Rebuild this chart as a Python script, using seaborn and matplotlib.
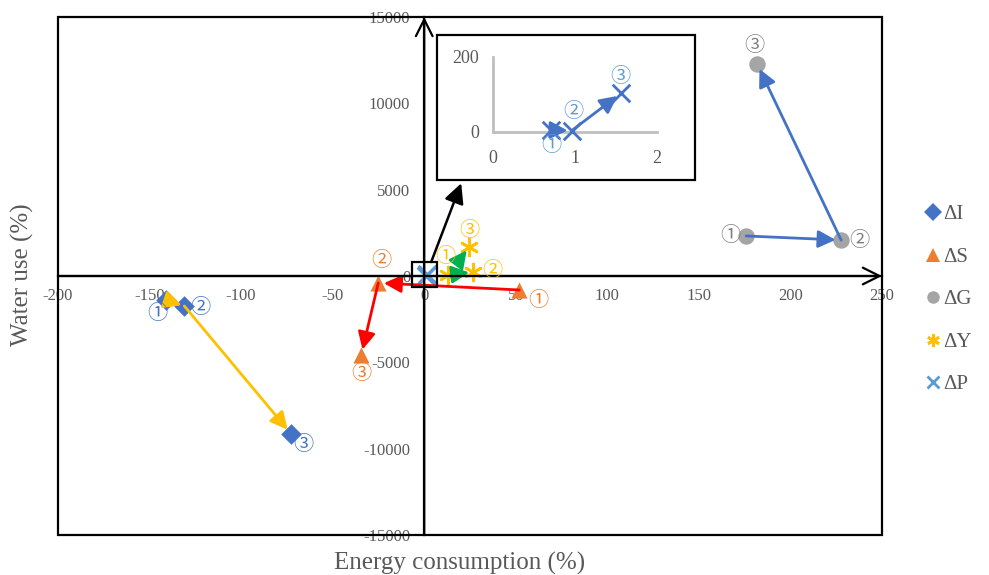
import matplotlib
matplotlib.use("Agg")
import matplotlib.pyplot as plt
import seaborn as sns
from matplotlib.patches import Rectangle
from matplotlib.lines import Line2D

# ---------------- data ----------------
series = ["ΔI", "ΔS", "ΔG", "ΔY", "ΔP"]
stages = ["①", "②", "③"]

I_x = [-141.0, -131.0, -72.6]
I_y = [-1390, -1740, -9150]
S_x = [51.9, -25.1, -34.4]
S_y = [-810, -400, -4580]
G_x = [175.8, 227.7, 181.8]
G_y = [2320, 2080, 12280]
Y_x = [13.1, 26.8, 24.6]
Y_y = [60, 230, 1680]
P_x = [0.71, 0.96, 1.56]
P_y = [4.5, 3.0, 102.0]

x_ticks = [-200, -150, -100, -50, 0, 50, 100, 150, 200, 250]
y_ticks = [-15000, -10000, -5000, 0, 5000, 10000, 15000]
inset_x_ticks = [0, 1, 2]
inset_y_ticks = [0, 200]

x_label = "Energy consumption (%)"
y_label = "Water use (%)"

# ---------------- style ----------------
sns.set_style("white")
plt.rcParams["font.family"] = ["Liberation Serif", "DejaVu Sans"]
TXT = "#595959"
CIRC_FONT = ["Noto Sans CJK JP", "DejaVu Sans"]

marker_col = {"ΔI": "#4472C4", "ΔS": "#ED7D31", "ΔG": "#A5A5A5",
              "ΔY": "#FFC000", "ΔP": "#5B9BD5"}
arrow_col = {"ΔI": "#FFC000", "ΔS": "#FF0000", "ΔG": "#4472C4",
             "ΔY": "#00B050", "ΔP": "#4472C4"}
label_col = {"ΔI": "#4472C4", "ΔS": "#ED7D31", "ΔG": "#7F7F7F",
             "ΔY": "#FFC000", "ΔP": "#5B9BD5"}
markers = {"ΔI": "D", "ΔS": "^", "ΔG": "o", "ΔY": (6, 2, 0), "ΔP": "x"}
msize = {"ΔI": 110, "ΔS": 135, "ΔG": 140, "ΔY": 150, "ΔP": 160}

fig = plt.figure(figsize=(9.89, 5.75), dpi=100)
W, H = 989, 575
ax = fig.add_axes([58 / W, (H - 535) / H, 824 / W, 518 / H])
ax.set_xlim(-200, 250)
ax.set_ylim(-15000, 15000)

# axes through origin
for side in ["top", "right"]:
    ax.spines[side].set_visible(False)
for side in ["left", "bottom"]:
    ax.spines[side].set_position(("data", 0))
    ax.spines[side].set_color("black")
    ax.spines[side].set_linewidth(1.6)
ax.set_xticks(x_ticks)
ax.set_yticks(y_ticks)
ax.set_xticklabels([str(t) for t in x_ticks])
ax.set_yticklabels([str(t) for t in y_ticks])
ax.tick_params(axis="x", length=0, pad=9, labelsize=12, labelcolor=TXT)
ax.tick_params(axis="y", length=0, pad=10, labelsize=12, labelcolor=TXT)
ax.set_xlabel("")
ax.set_ylabel("")
ax.grid(False)

# outer frame
ax.add_patch(Rectangle((0, 0), 1, 1, transform=ax.transAxes, fill=False,
                       ec="black", lw=1.6, clip_on=False, zorder=5))
# arrow heads on the axes
head = "->,head_length=0.8,head_width=0.4"
ax.annotate("", xy=(250, 0), xytext=(-200, 0), annotation_clip=False,
            arrowprops=dict(arrowstyle=head, color="black", lw=1.6,
                            shrinkA=0, shrinkB=0, mutation_scale=15), zorder=5)
ax.annotate("", xy=(0, 15000), xytext=(0, -15000), annotation_clip=False,
            arrowprops=dict(arrowstyle=head, color="black", lw=1.6,
                            shrinkA=0, shrinkB=0, mutation_scale=15), zorder=5)

data = {"ΔI": (I_x, I_y), "ΔS": (S_x, S_y), "ΔG": (G_x, G_y),
        "ΔY": (Y_x, Y_y), "ΔP": (P_x, P_y)}

for name in series:
    xs, ys = data[name]
    m = markers[name]
    kw = dict(x=xs, y=ys, ax=ax, marker=m, color=marker_col[name],
              s=msize[name], legend=False, zorder=3, clip_on=False)
    if name in ("ΔY", "ΔP"):
        kw["linewidth"] = 1.9
    else:
        kw["linewidth"] = 0
    sns.scatterplot(**kw)


def arrow(a, xy_from, xy_to, color, shrinkA=0, shrinkB=3, z=4):
    a.annotate("", xy=xy_to, xytext=xy_from, annotation_clip=False,
               arrowprops=dict(arrowstyle="-|>,head_length=0.7,head_width=0.35",
                               color=color, lw=2, shrinkA=shrinkA,
                               shrinkB=shrinkB, mutation_scale=15), zorder=z)


for name in ["ΔI", "ΔS", "ΔG"]:
    xs, ys = data[name]
    for k in range(2):
        arrow(ax, (xs[k], ys[k]), (xs[k + 1], ys[k + 1]), arrow_col[name],
              shrinkA=0, shrinkB=(2 if k == 0 and name == "ΔI" else 4))
# ΔY: arrows
arrow(ax, (Y_x[0], Y_y[0]), (Y_x[1], Y_y[1]), arrow_col["ΔY"], shrinkA=2, shrinkB=3)
arrow(ax, (Y_x[0], Y_y[0]), (Y_x[2], Y_y[2]), arrow_col["ΔY"], shrinkA=12, shrinkB=3)

# circled stage labels (offsets in points)
offsets = {
    "ΔI": [(-6.5, -10), (11.5, -0.7), (8.5, -7.9)],
    "ΔS": [(13.7, -7.9), (2.2, 15.8), (0, -13)],
    "ΔG": [(-11.5, 0), (13, 0), (-2.2, 13)],
    "ΔY": [(-2.2, 13), (13.7, 1.4), (0, 12.2)],
}
for name, offs in offsets.items():
    xs, ys = data[name]
    for k in range(3):
        ax.annotate(stages[k], (xs[k], ys[k]), xytext=offs[k],
                    textcoords="offset points", ha="center", va="center",
                    fontsize=14.5, color=label_col[name], family=CIRC_FONT,
                    zorder=6, annotation_clip=False)

# small box around origin and pointer to inset
ax.add_patch(Rectangle((-6.6, -640), 13.7, 1450, fill=False, ec="black",
                       lw=1.6, zorder=6))
ax.annotate("", xy=(20.2, 5370), xytext=(3.8, 810),
            arrowprops=dict(arrowstyle="-|>,head_length=0.8,head_width=0.4",
                            color="black", lw=1.8, shrinkA=0, shrinkB=0,
                            mutation_scale=15), zorder=7)

# inset border
ax.add_patch(Rectangle((437 / W, (H - 180) / H), 258 / W, 145 / H,
                       transform=fig.transFigure, fc="white", ec="black",
                       lw=1.6, clip_on=False, zorder=8))

# axis titles
fig.text(460 / W, 1 - 563 / H, x_label, ha="center", va="center",
         fontsize=18, color=TXT)
fig.text(22 / W, 1 - 275 / H, y_label, ha="center", va="center",
         rotation=90, fontsize=18, color=TXT)

# inset axes
ins = fig.add_axes([493.3 / W, (H - 131.7) / H, 163.4 / W, 75 / H])
ins.set_facecolor("none")
ins.set_xlim(0, 2)
ins.set_ylim(0, 200)
for side in ["top", "right"]:
    ins.spines[side].set_visible(False)
for side in ["left", "bottom"]:
    ins.spines[side].set_color("#BFBFBF")
    ins.spines[side].set_linewidth(2)
ins.set_xticks(inset_x_ticks)
ins.set_yticks(inset_y_ticks)
ins.set_xticklabels([str(t) for t in inset_x_ticks])
ins.set_yticklabels([str(t) for t in inset_y_ticks])
ins.tick_params(axis="both", color="#BFBFBF", length=4, width=1.5,
                labelsize=13, labelcolor=TXT)
ins.tick_params(axis="x", pad=9)
ins.tick_params(axis="y", pad=6)
ins.grid(False)
sns.scatterplot(x=P_x, y=P_y, ax=ins, marker="x", color="#4472C4", s=160,
                linewidth=2, legend=False, zorder=3, clip_on=False)
for k in range(2):
    arrow(ins, (P_x[k], P_y[k]), (P_x[k + 1], P_y[k + 1]), arrow_col["ΔP"],
          shrinkA=0, shrinkB=3)
p_offs = [(0, -11.5), (1, 13.5), (0, 12.5)]
for k in range(3):
    ins.annotate(stages[k], (P_x[k], P_y[k]), xytext=p_offs[k],
                 textcoords="offset points", ha="center", va="center",
                 fontsize=14.5, color=label_col["ΔP"], family=CIRC_FONT,
                 zorder=6, annotation_clip=False)

# legend
handles = [Line2D([], [], ls="none", marker=markers[n],
                  markersize=(9 if n != "ΔS" else 10),
                  color=marker_col[n], markeredgewidth=(2 if n in ("ΔY", "ΔP") else 0))
           for n in series]
fig.legend(handles, series, loc="upper left",
           bbox_to_anchor=(904 / W, 1 - 186 / H), frameon=False,
           labelspacing=1.1, handletextpad=0.0, handlelength=1.0,
           prop={"size": 15}, labelcolor=TXT)

fig.savefig("out.png", dpi=100)
